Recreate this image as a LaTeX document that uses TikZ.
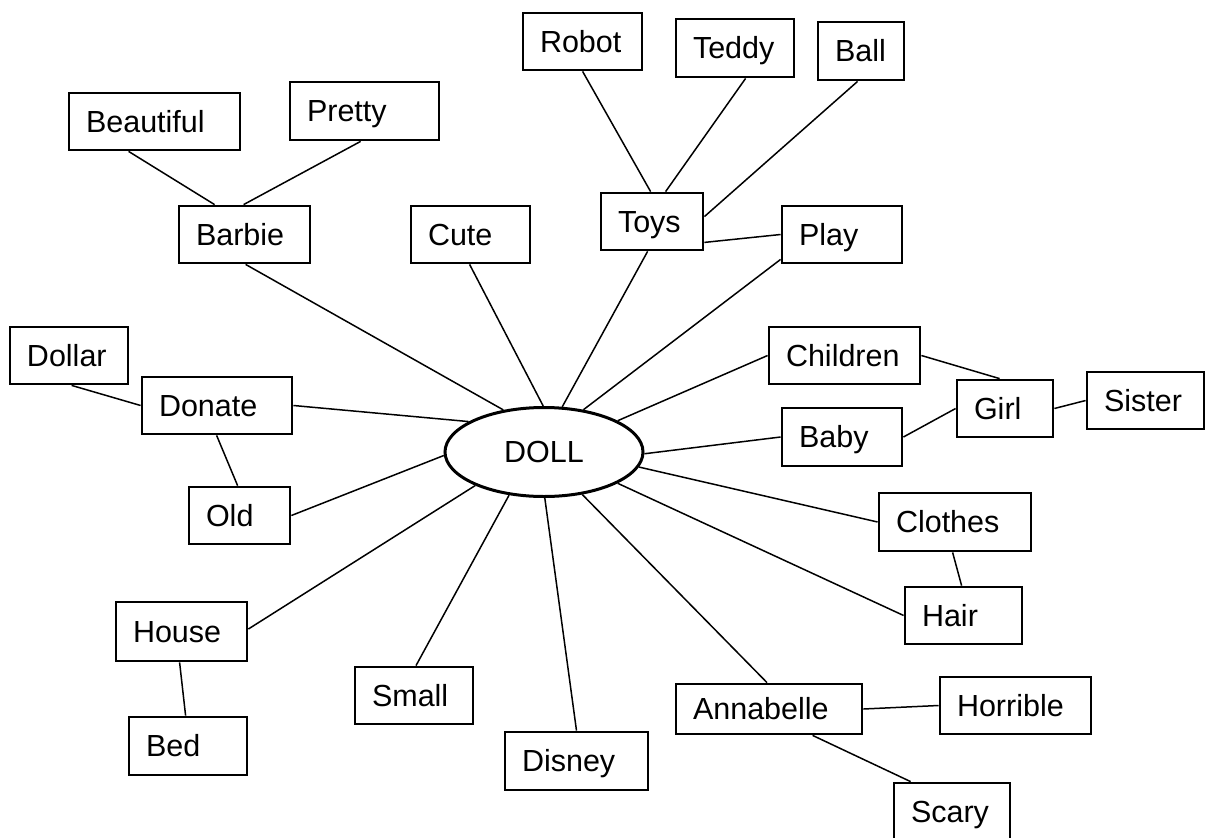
\documentclass[tikz,border=0pt]{standalone}
\usepackage{fontspec}
\setmainfont{Liberation Sans}
\usetikzlibrary{shapes.geometric}

\pgfdeclarelayer{paper}
\pgfdeclarelayer{links}
\pgfsetlayers{paper,links,main}

% word box given by its corners (x1,y1,x2,y2), text set flush left
\newcommand{\wordbox}[6]{%
  \pgfmathsetmacro{\bxw}{#4-#2}%
  \pgfmathsetmacro{\bxh}{#5-#3}%
  \pgfmathsetmacro{\bxt}{#4-#2-34}%
  \node[wbox, minimum width=\bxw pt, minimum height=\bxh pt, text width=\bxt pt]
    (#1) at ({(#2+#4)/2},{(#3+#5)/2}) {#6};}

\begin{document}
\begin{tikzpicture}[x=1pt, y=-1pt,
  wbox/.style={draw, fill=white, line width=2.8pt, rectangle, inner xsep=17pt,
    inner ysep=0pt, align=left, font=\fontsize{30.5}{36}\selectfont,
    text height=21.8pt, text depth=0pt},
  hub/.style={draw, fill=white, line width=3pt, ellipse, inner sep=0pt,
    minimum width=198pt, minimum height=89pt, font=\fontsize{30.5}{36}\selectfont,
    text height=21.8pt, text depth=0pt},
  link/.style={line width=1.5pt}]
\useasboundingbox (0,0) rectangle (1205,838);
\begin{pgfonlayer}{paper}
\fill[white] (0,0) rectangle (1205,838);
\end{pgfonlayer}

% central concept
\node[hub] (doll) at (544,452) {DOLL};

% word boxes
\wordbox{robot}{523}{13}{642}{70}{Robot}
\wordbox{teddy}{676}{19}{794}{77}{Teddy}
\wordbox{ball}{818}{22}{904}{80}{Ball}
\wordbox{beautiful}{69}{93}{240}{150}{Beautiful}
\wordbox{pretty}{290}{82}{439}{140}{Pretty}
\wordbox{barbie}{179}{206}{310}{263}{Barbie}
\wordbox{cute}{411}{206}{530}{263}{Cute}
\wordbox{toys}{601}{193}{703}{250}{Toys}
\wordbox{play}{782}{206}{902}{263}{Play}
\wordbox{dollar}{10}{327}{128}{384}{Dollar}
\wordbox{donate}{142}{377}{292}{434}{Donate}
\wordbox{children}{769}{327}{920}{384}{Children}
\wordbox{girl}{957}{380}{1053}{437}{Girl}
\wordbox{sister}{1087}{372}{1204}{429}{Sister}
\wordbox{baby}{782}{408}{902}{466}{Baby}
\wordbox{old}{189}{487}{290}{544}{Old}
\wordbox{clothes}{879}{493}{1031}{551}{Clothes}
\wordbox{hair}{905}{587}{1022}{644}{Hair}
\wordbox{house}{116}{602}{247}{661}{House}
\wordbox{small}{355}{667}{473}{724}{Small}
\wordbox{bed}{129}{717}{247}{775}{Bed}
\wordbox{disney}{505}{732}{648}{790}{Disney}
\wordbox{annabelle}{676}{684}{862}{734}{Annabelle}
\wordbox{horrible}{940}{677}{1091}{734}{Horrible}
\wordbox{scary}{894}{783}{1010}{841}{Scary}

% connectors, drawn behind the boxes
\begin{pgfonlayer}{links}
% spokes from DOLL
\draw[link] ([xshift=68pt]barbie.south west) -- (doll.134);
\draw[link] ([xshift=60pt]cute.south west) -- (doll.91);
\draw[link] ([xshift=48pt]toys.south west) -- (doll.68);
\draw[link] ([yshift=5pt]play.south west) -- (doll.47);
\draw[link] (children.west) -- (doll.23);
\draw[link] (donate.east) -- (doll.158);
\draw[link] (old.east) -- (doll.182);
\draw[link] (baby.west) -- (doll.-1);
\draw[link] (clothes.west) -- (doll.-9);
\draw[link] (hair.west) -- (doll.-23);
\draw[link] ([xshift=-2pt]annabelle.north) -- (doll.-48);
\draw[link] (disney.north) -- (doll.-89);
\draw[link] ([xshift=2pt]small.north) -- (doll.231);
\draw[link] ([yshift=2.5pt]house.east) -- (doll.206);
% second-level links
\draw[link] ([xshift=61pt]beautiful.south west) -- ([xshift=37pt]barbie.north west);
\draw[link] ([xshift=72pt]pretty.south west) -- ([xshift=66pt]barbie.north west);
\draw[link] ([xshift=61pt]robot.south west) -- ([xshift=51pt]toys.north west);
\draw[link] ([xshift=71pt]teddy.south west) -- ([xshift=66pt]toys.north west);
\draw[link] ([xshift=41pt]ball.south west) -- ([yshift=-25pt]toys.north east);
\draw[link] ([yshift=9pt]toys.south east) -- (play.west);
\draw[link] ([xshift=63pt]dollar.south west) -- (donate.west);
\draw[link] ([xshift=76pt]donate.south west) -- ([xshift=50pt]old.north west);
\draw[link] ([xshift=65pt]house.south west) -- ([xshift=58pt]bed.north west);
\draw[link] (children.east) -- ([xshift=44pt]girl.north west);
\draw[link] (baby.east) -- (girl.west);
\draw[link] (girl.east) -- (sister.west);
\draw[link] ([xshift=75pt]clothes.south west) -- ([xshift=58pt]hair.north west);
\draw[link] (annabelle.east) -- (horrible.west);
\draw[link] ([xshift=138pt]annabelle.south west) -- ([xshift=18pt]scary.north west);
\end{pgfonlayer}
\end{tikzpicture}
\end{document}
